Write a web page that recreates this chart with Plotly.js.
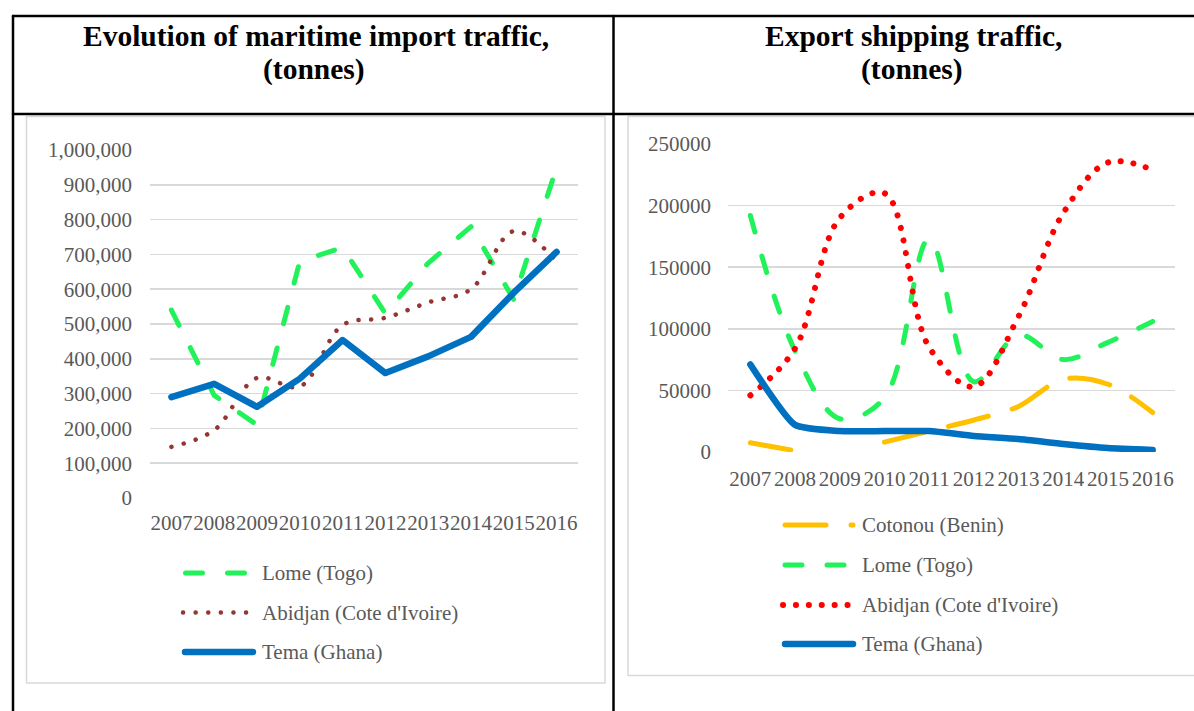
<!DOCTYPE html>
<html>
<head>
<meta charset="utf-8">
<script src="https://cdn.plot.ly/plotly-3.0.1.min.js"></script>
<style>
  html, body { margin: 0; padding: 0; background: #ffffff; }
  #chart { width: 1194px; height: 711px; }
  .js-line, .shapelayer path { stroke-linecap: round !important; stroke-linejoin: round !important; }
</style>
</head>
<body>
<div id="chart"></div>
<script>
// ---------- data ----------
const years = ['2007', '2008', '2009', '2010', '2011', '2012', '2013', '2014', '2015', '2016'];

const importTitle = 'Evolution of maritime import traffic,';
const exportTitle = 'Export shipping traffic,';
const unitLabel = '(tonnes)';

const importNames = ['Lome (Togo)', "Abidjan (Cote d'Ivoire)", 'Tema (Ghana)'];
const importLome    = [540000, 295000, 210000, 680000, 720000, 530000, 675000, 780000, 570000, 950000];
const importAbidjan = [147000, 195000, 345000, 320000, 497000, 518000, 562000, 600000, 767000, 680000];
const importTema    = [290000, 328000, 262000, 343000, 454000, 359000, 407000, 463000, 590000, 707000];

const exportNames = ['Cotonou (Benin)', 'Lome (Togo)', "Abidjan (Cote d'Ivoire)", 'Tema (Ghana)'];
const exportCotonou = [7500, 1000, null, 8000, 17000, 26000, 37000, 59000, 55000, 32000];
const exportLome    = [192000, 82000, 27000, 44000, 173000, 57000, 95000, 75000, 89000, 106000];
const exportAbidjan = [46000, 84000, 190000, 210000, 85000, 53000, 110000, 194000, 235000, 229000];
const exportTema    = [71000, 22000, 17000, 17000, 17000, 13000, 10500, 6500, 3200, 1600];

// ---------- styles ----------
const W = 1194, H = 711;
const px = x => x / W;
const py = y => 1 - y / H;
const FONT = 'Liberation Serif, Times New Roman, serif';
const TICK = '#595959';
const GRID = '#d9d9d9';

const sGreen   = { color: '#22F25A', width: 5, dash: '17px,25px' };
const sBrown   = { color: '#943634', width: 4.5, dash: '0.1px,12.5px' };
const sRed     = { color: '#FF0000', width: 6, dash: '0.1px,12.8px' };
const sBlue    = { color: '#0070C0', width: 6.5, dash: 'solid' };
const sOrange  = { color: '#FFC000', width: 5, dash: '41px,25px' };

function tr(y, name, style, xa, ya, shape, smooth) {
  return {
    type: 'scatter', mode: 'lines', x: years, y: y, name: name,
    xaxis: xa, yaxis: ya, showlegend: false, connectgaps: false,
    line: Object.assign({}, style, { shape: shape || 'linear', smoothing: smooth === undefined ? 1 : smooth }),
    hoverinfo: 'skip'
  };
}

const data = [
  tr(importLome, importNames[0], sGreen, 'x', 'y', 'linear'),
  tr(importAbidjan, importNames[1], sBrown, 'x', 'y', 'spline'),
  tr(importTema, importNames[2], sBlue, 'x', 'y', 'linear'),
  tr(exportCotonou, exportNames[0], sOrange, 'x2', 'y2', 'spline'),
  tr(exportLome, exportNames[1], sGreen, 'x2', 'y2', 'spline'),
  tr(exportAbidjan, exportNames[2], sRed, 'x2', 'y2', 'spline'),
  tr(exportTema, exportNames[3], sBlue, 'x2', 'y2', 'spline', 0.5)
];

// ---------- frame / table shapes ----------
const shapes = [];
function hline(x0, x1, y, color, w) {
  shapes.push({ type: 'line', xref: 'paper', yref: 'paper', x0: px(x0), x1: px(x1), y0: py(y), y1: py(y), line: { color: color, width: w } });
}
function vline(x, y0, y1, color, w) {
  shapes.push({ type: 'line', xref: 'paper', yref: 'paper', x0: px(x), x1: px(x), y0: py(y0), y1: py(y1), line: { color: color, width: w } });
}
function rect(x0, y0, x1, y1, color, w) {
  shapes.push({ type: 'rect', xref: 'paper', yref: 'paper', x0: px(x0), x1: px(x1), y0: py(y1), y1: py(y0), line: { color: color, width: w }, fillcolor: 'rgba(0,0,0,0)' });
}
rect(26.5, 116.5, 605, 683, GRID, 1.5);
rect(628, 116.5, 1210, 675.5, GRID, 1.5);
hline(13, 1200, 16, '#000', 2.5);
hline(13, 1200, 114, '#000', 2.5);
vline(13, 16, 720, '#000', 2.5);
vline(613.5, 16, 720, '#000', 2.5);

// ---------- legends (manual) ----------
const annotations = [];
function legendItem(x0, x1, y, style, text) {
  shapes.push({ type: 'line', xref: 'paper', yref: 'paper', x0: px(x0), x1: px(x1), y0: py(y), y1: py(y),
    line: { color: style.color, width: style.width, dash: style.dash } });
  annotations.push({ xref: 'paper', yref: 'paper', x: px(x1 + 7), y: py(y), xanchor: 'left', yanchor: 'middle',
    text: text, showarrow: false, font: { family: FONT, size: 21, color: TICK } });
}
legendItem(185.5, 253, 573, sGreen, importNames[0]);
legendItem(183, 253, 612.5, sBrown, importNames[1]);
legendItem(185, 253, 652, sBlue, importNames[2]);

legendItem(785, 853, 525, sOrange, exportNames[0]);
legendItem(785, 853, 565, sGreen, exportNames[1]);
legendItem(783, 853, 605, sRed, exportNames[2]);
legendItem(785, 853, 644, sBlue, exportNames[3]);

// ---------- titles ----------
function title(x, y, text) {
  annotations.push({ xref: 'paper', yref: 'paper', x: px(x), y: py(y), xanchor: 'center', yanchor: 'middle',
    text: text, showarrow: false, font: { family: FONT, size: 29.5, color: '#000', weight: 700 } });
}
title(315.5, 36, importTitle);
title(314, 70, unitLabel);
title(913, 36, exportTitle);
title(912, 70, unitLabel);

// ---------- axes ----------
const tickFont = { family: FONT, size: 21, color: TICK };
const layout = {
  width: W, height: H,
  margin: { l: 0, r: 0, t: 0, b: 0 },
  paper_bgcolor: '#ffffff', plot_bgcolor: 'rgba(0,0,0,0)',
  showlegend: false,
  hovermode: false,
  xaxis: {
    domain: [px(150), px(578)], anchor: 'y', type: 'category', range: [-0.5, 9.5],
    showgrid: false, zeroline: false, showline: false, ticks: '',
    tickfont: tickFont, ticklabelstandoff: 10, tickangle: 0, fixedrange: true
  },
  yaxis: {
    domain: [py(498), py(150)], anchor: 'x', range: [0, 1000000], dtick: 100000, tick0: 0,
    tickformat: ',d', showgrid: true, gridcolor: GRID, gridwidth: 1.5, zeroline: false, showline: false,
    ticks: '', tickfont: tickFont, ticklabelstandoff: 17, fixedrange: true
  },
  xaxis2: {
    domain: [px(728), px(1175)], anchor: 'y2', type: 'category', range: [-0.5, 9.5],
    showgrid: false, zeroline: false, showline: false, ticks: '',
    tickfont: tickFont, ticklabelstandoff: 12, tickangle: 0, fixedrange: true
  },
  yaxis2: {
    domain: [py(452), py(144)], anchor: 'x2', range: [0, 250000], dtick: 50000, tick0: 0,
    tickformat: 'd', showgrid: true, gridcolor: GRID, gridwidth: 1.5, zeroline: false, showline: false,
    ticks: '', tickfont: tickFont, ticklabelstandoff: 16, fixedrange: true
  },
  shapes: shapes,
  annotations: annotations
};

Plotly.newPlot('chart', data, layout, { staticPlot: true, displayModeBar: false });
</script>
</body>
</html>
